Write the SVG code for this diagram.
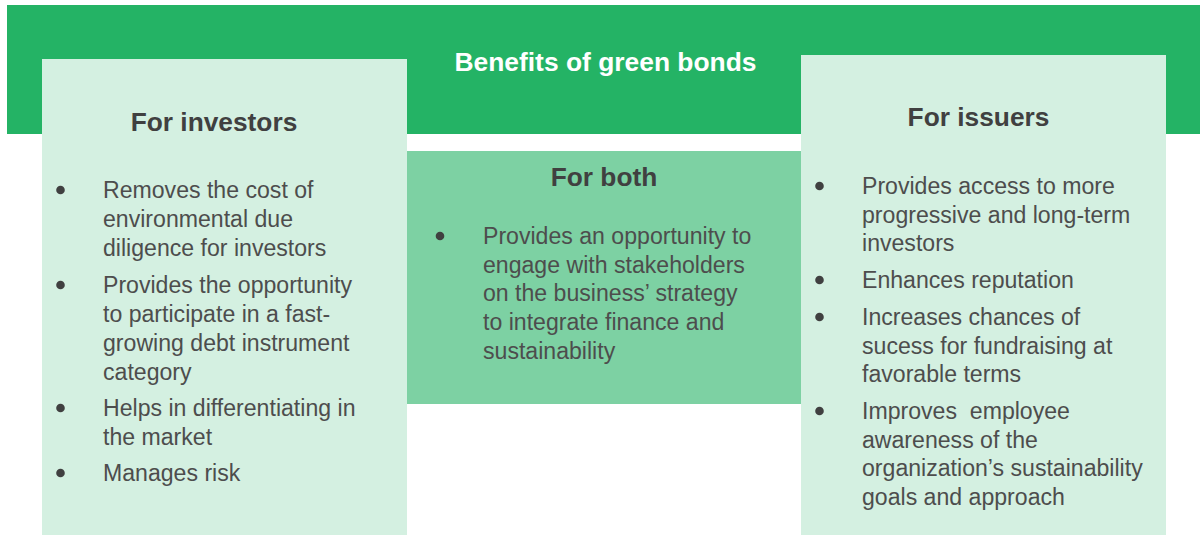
<svg xmlns="http://www.w3.org/2000/svg" width="1200" height="535" viewBox="0 0 1200 535">
<style>
.banner{fill:#24B365}
.panel{fill:#D4F0E1}
.mid{fill:#7DD1A3}
.h{font-family:"Liberation Sans",Arial,sans-serif;font-weight:bold;font-size:26.3px;fill:#404040;text-anchor:middle}
.title{font-family:"Liberation Sans",Arial,sans-serif;font-weight:bold;font-size:26.4px;fill:#ffffff;text-anchor:middle}
.b{font-family:"Liberation Sans",Arial,sans-serif;font-size:23.1px;fill:#4d4d4d}
.dot{fill:#404040}
</style>
<rect width="1200" height="535" fill="#ffffff"/>
<g id="banner">
<rect class="banner" x="7" y="5" width="1193" height="129"/>
<text class="title" x="605.5" y="71">Benefits of green bonds</text>
</g>
<g id="investors">
<rect class="panel" x="42" y="59" width="365" height="476"/>
<text class="h" x="214" y="131">For investors</text>
<circle class="dot" cx="60.5" cy="190" r="4.3"/>
<circle class="dot" cx="60.5" cy="285" r="4.3"/>
<circle class="dot" cx="60.5" cy="408" r="4.3"/>
<circle class="dot" cx="60.5" cy="473" r="4.3"/>
<text class="b" x="103" y="198">Removes the cost of</text>
<text class="b" x="103" y="227">environmental due</text>
<text class="b" x="103" y="256">diligence for investors</text>
<text class="b" x="103" y="293">Provides the opportunity</text>
<text class="b" x="103" y="322">to participate in a fast-</text>
<text class="b" x="103" y="351">growing debt instrument</text>
<text class="b" x="103" y="380">category</text>
<text class="b" x="103" y="416">Helps in differentiating in</text>
<text class="b" x="103" y="444.5">the market</text>
<text class="b" x="103" y="481">Manages risk</text>
</g>
<g id="both">
<rect class="mid" x="407" y="151" width="394" height="253"/>
<text class="h" x="604" y="186">For both</text>
<circle class="dot" cx="440" cy="236" r="4.3"/>
<text class="b" x="483" y="244">Provides an opportunity to</text>
<text class="b" x="483" y="272.7">engage with stakeholders</text>
<text class="b" x="483" y="301.3">on the business’ strategy</text>
<text class="b" x="483" y="330">to integrate finance and</text>
<text class="b" x="483" y="358.6">sustainability</text>
</g>
<g id="issuers">
<rect class="panel" x="801" y="55" width="365" height="480"/>
<text class="h" x="978.5" y="126">For issuers</text>
<circle class="dot" cx="819.5" cy="186" r="4.3"/>
<circle class="dot" cx="819.5" cy="280" r="4.3"/>
<circle class="dot" cx="819.5" cy="317" r="4.3"/>
<circle class="dot" cx="819.5" cy="411" r="4.3"/>
<text class="b" x="862" y="194">Provides access to more</text>
<text class="b" x="862" y="222.6">progressive and long-term</text>
<text class="b" x="862" y="251.2">investors</text>
<text class="b" x="862" y="288">Enhances reputation</text>
<text class="b" x="862" y="325">Increases chances of</text>
<text class="b" x="862" y="353.6">sucess for fundraising at</text>
<text class="b" x="862" y="382.2">favorable terms</text>
<text class="b" x="862" y="419" xml:space="preserve">Improves  employee</text>
<text class="b" x="862" y="447.6">awareness of the</text>
<text class="b" x="862" y="476.2">organization’s sustainability</text>
<text class="b" x="862" y="504.8">goals and approach</text>
</g>
<g id="connectors"/>
</svg>
